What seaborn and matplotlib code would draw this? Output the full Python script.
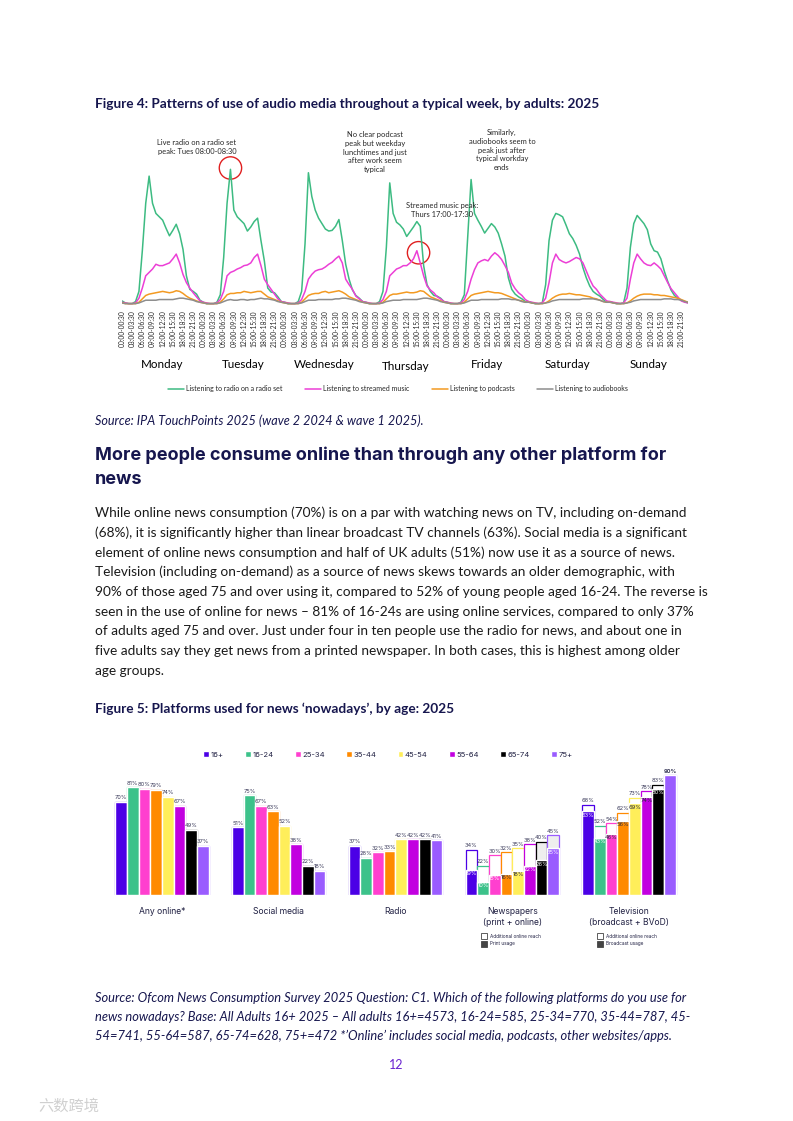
import matplotlib
matplotlib.use("Agg")
import matplotlib.pyplot as plt
from matplotlib.patches import Ellipse, Rectangle
import seaborn as sns
import pandas as pd

# ---- Figure 4 data (hourly, arbitrary reach units) ----
days = ["Monday", "Tuesday", "Wednesday", "Thursday", "Friday", "Saturday", "Sunday"]
slot_labels = ["00:00-00:30", "03:00-03:30", "06:00-06:30", "09:00-09:30",
               "12:00-12:30", "15:00-15:30", "18:00-18:30", "21:00-21:30"]

radio = [
    0.6, 0.3, 0.2, 0.2, 0.5, 2.0, 8.0, 15.0, 19.0, 15.0, 13.5, 13.0, 12.5, 11.3, 10.2, 11.0, 11.9, 10.5, 8.2, 4.3, 2.3, 2.0, 1.6, 0.7,
    0.4, 0.2, 0.2, 0.2, 0.4, 1.5, 7.0, 15.0, 20.0, 14.0, 13.0, 12.5, 12.0, 10.9, 11.5, 12.3, 12.8, 9.5, 6.5, 2.5, 1.9, 1.8, 1.2, 0.5,
    0.4, 0.2, 0.2, 0.2, 0.5, 2.0, 9.0, 19.5, 16.0, 14.0, 12.8, 12.0, 11.2, 10.9, 11.0, 11.6, 12.6, 9.5, 6.0, 3.8, 2.2, 1.4, 1.0, 0.5,
    0.4, 0.2, 0.2, 0.2, 0.5, 2.0, 8.5, 18.0, 13.5, 12.2, 11.8, 11.2, 10.1, 10.8, 11.5, 12.3, 11.6, 5.8, 3.0, 2.0, 1.4, 1.3, 1.0, 0.5,
    0.4, 0.2, 0.2, 0.2, 0.4, 1.5, 10.0, 18.5, 13.5, 12.5, 11.6, 10.6, 11.3, 12.0, 11.5, 10.6, 9.0, 7.2, 4.0, 2.3, 1.6, 1.2, 0.9, 0.5,
    0.5, 0.3, 0.2, 0.2, 0.3, 3.0, 9.5, 12.5, 13.5, 13.3, 13.0, 11.8, 10.5, 9.8, 8.8, 7.5, 5.5, 4.0, 2.8, 2.0, 1.6, 1.3, 0.8, 0.4,
    0.5, 0.3, 0.2, 0.2, 0.3, 2.5, 8.5, 12.0, 13.2, 12.6, 12.0, 11.1, 9.0, 8.0, 7.8, 6.8, 5.0, 3.5, 2.2, 1.4, 1.0, 0.7, 0.5, 0.3,
]
streamed = [
    0.4, 0.3, 0.2, 0.2, 0.3, 1.0, 2.5, 4.3, 4.8, 5.3, 6.0, 5.8, 5.8, 6.0, 6.2, 6.8, 7.5, 6.2, 4.5, 3.3, 2.5, 1.8, 1.2, 0.6,
    0.4, 0.3, 0.2, 0.2, 0.3, 0.8, 2.0, 4.3, 4.8, 5.0, 5.3, 5.5, 5.8, 5.9, 6.2, 7.0, 7.5, 5.8, 3.8, 3.0, 2.3, 1.6, 0.9, 0.5,
    0.4, 0.3, 0.2, 0.2, 0.3, 0.8, 2.0, 3.8, 4.5, 5.0, 5.2, 5.3, 5.6, 6.0, 6.3, 6.8, 7.2, 6.2, 3.8, 3.0, 2.3, 1.3, 0.9, 0.5,
    0.4, 0.3, 0.2, 0.2, 0.3, 0.8, 2.0, 4.3, 4.8, 5.3, 5.5, 5.8, 5.8, 6.2, 6.8, 8.0, 6.2, 4.3, 2.8, 2.2, 1.8, 1.2, 0.9, 0.5,
    0.4, 0.3, 0.2, 0.2, 0.3, 0.8, 2.0, 3.8, 5.2, 6.2, 6.5, 6.7, 6.5, 7.2, 7.7, 7.3, 6.7, 5.8, 4.8, 3.2, 2.4, 1.8, 1.4, 0.8,
    0.5, 0.4, 0.3, 0.2, 0.3, 1.0, 3.3, 6.2, 7.5, 6.7, 6.4, 6.2, 6.4, 6.7, 7.0, 6.8, 6.2, 5.0, 3.8, 2.8, 2.3, 1.6, 1.1, 0.6,
    0.5, 0.4, 0.3, 0.2, 0.3, 1.0, 3.8, 6.2, 7.5, 6.8, 6.2, 5.9, 5.8, 6.2, 5.8, 5.3, 4.3, 3.3, 2.4, 1.8, 1.2, 0.6, 0.4, 0.3,
]
podcasts = [
    0.3, 0.2, 0.2, 0.2, 0.2, 0.4, 0.9, 1.4, 1.6, 1.7, 1.8, 1.9, 2.0, 1.9, 1.8, 1.9, 2.1, 2.0, 1.7, 1.3, 1.0, 0.8, 0.6, 0.4,
    0.3, 0.2, 0.2, 0.2, 0.2, 0.4, 0.9, 1.5, 1.7, 1.7, 1.8, 1.8, 2.0, 1.9, 1.8, 1.9, 2.0, 2.0, 1.6, 1.2, 1.0, 0.8, 0.6, 0.4,
    0.3, 0.2, 0.2, 0.2, 0.2, 0.4, 0.9, 1.4, 1.6, 1.7, 1.7, 1.9, 2.0, 1.8, 1.9, 2.0, 2.1, 1.9, 1.6, 1.2, 1.0, 0.8, 0.6, 0.4,
    0.3, 0.2, 0.2, 0.2, 0.2, 0.4, 0.9, 1.4, 1.6, 1.6, 1.7, 1.8, 1.9, 1.8, 1.8, 1.9, 2.1, 2.0, 1.6, 1.2, 1.0, 0.8, 0.6, 0.4,
    0.3, 0.2, 0.2, 0.2, 0.2, 0.4, 0.9, 1.4, 1.6, 1.7, 1.8, 1.9, 2.0, 1.9, 1.8, 1.8, 1.7, 1.5, 1.3, 1.1, 0.9, 0.7, 0.6, 0.4,
    0.4, 0.3, 0.2, 0.2, 0.2, 0.3, 0.6, 1.0, 1.3, 1.5, 1.6, 1.6, 1.7, 1.6, 1.5, 1.5, 1.4, 1.3, 1.2, 1.0, 0.9, 0.7, 0.5, 0.4,
    0.4, 0.3, 0.2, 0.2, 0.2, 0.3, 0.6, 1.0, 1.3, 1.5, 1.6, 1.6, 1.6, 1.5, 1.5, 1.4, 1.4, 1.3, 1.2, 1.1, 1.0, 0.8, 0.6, 0.4,
]
audiobooks = [
    0.3, 0.2, 0.2, 0.2, 0.2, 0.3, 0.5, 0.7, 0.7, 0.7, 0.7, 0.8, 0.8, 0.8, 0.8, 0.8, 0.9, 1.0, 1.0, 0.9, 0.8, 0.7, 0.5, 0.4,
    0.3, 0.2, 0.2, 0.2, 0.2, 0.3, 0.5, 0.7, 0.8, 0.7, 0.7, 0.8, 0.8, 0.7, 0.8, 0.8, 0.9, 1.0, 0.9, 0.9, 0.8, 0.7, 0.5, 0.4,
    0.3, 0.2, 0.2, 0.2, 0.2, 0.3, 0.5, 0.7, 0.7, 0.7, 0.8, 0.8, 0.8, 0.8, 0.8, 0.9, 0.9, 1.0, 1.0, 0.9, 0.8, 0.7, 0.5, 0.4,
    0.3, 0.2, 0.2, 0.2, 0.2, 0.3, 0.5, 0.6, 0.7, 0.7, 0.7, 0.8, 0.8, 0.8, 0.8, 0.8, 0.9, 1.0, 1.0, 0.9, 0.8, 0.7, 0.5, 0.4,
    0.3, 0.2, 0.2, 0.2, 0.2, 0.3, 0.5, 0.7, 0.7, 0.7, 0.8, 0.8, 0.8, 0.8, 0.8, 0.8, 0.9, 0.9, 0.9, 0.8, 0.8, 0.7, 0.5, 0.4,
    0.4, 0.3, 0.2, 0.2, 0.2, 0.3, 0.4, 0.6, 0.7, 0.8, 0.8, 0.8, 0.8, 0.8, 0.8, 0.8, 0.9, 0.9, 0.9, 0.9, 0.8, 0.7, 0.5, 0.4,
    0.4, 0.3, 0.2, 0.2, 0.2, 0.3, 0.4, 0.6, 0.7, 0.8, 0.8, 0.8, 0.8, 0.8, 0.8, 0.8, 0.9, 0.9, 0.9, 0.8, 0.8, 0.7, 0.5, 0.4,
]
series_names = ["Listening to radio on a radio set", "Listening to streamed music",
                "Listening to podcasts", "Listening to audiobooks"]
line_colors = ["#3dbb82", "#ec3fd6", "#f39a22", "#8d8d8d"]

# ---- Figure 5 data ----
platforms = ["Any online*", "Social media", "Radio",
             "Newspapers\n(print + online)", "Television\n(broadcast + BVoD)"]
ages = ["16+", "16-24", "25-34", "35-44", "45-54", "55-64", "65-74", "75+"]
any_online = [70, 81, 80, 79, 74, 67, 49, 37]
social_media = [51, 75, 67, 63, 52, 38, 22, 18]
radio_news = [37, 28, 32, 33, 42, 42, 42, 41]
newspapers_total = [34, 22, 30, 32, 35, 38, 40, 45]
newspapers_print = [19, 10, 15, 16, 18, 22, 26, 35]
tv_total = [68, 52, 54, 62, 73, 78, 83, 90]
tv_broadcast = [63, 43, 46, 56, 69, 74, 80, 90]
age_colors = ["#4b00e6", "#3cc28a", "#ff3fcf", "#ff8a00", "#ffee5a", "#c200e0", "#000000", "#9a5cff"]

W, H = 793, 1121
NAVY = "#16164e"
TEXT = "#1a1a1a"


def fx(x):
    return x / W


def fy(y):
    return 1 - y / H


sns.set_theme(style="white")
plt.rcParams["font.family"] = ["Lato", "DejaVu Sans"]

fig = plt.figure(figsize=(W / 100, H / 100), dpi=100)

# ---------------- Figure 4 ----------------
fig.text(fx(95), fy(104), "Figure 4: Patterns of use of audio media throughout a typical week, by adults: 2025",
         fontsize=9.8, fontweight="bold", color=NAVY, va="center")

rows = []
for name, vals in zip(series_names, [radio, streamed, podcasts, audiobooks]):
    for i, v in enumerate(vals):
        rows.append({"slot": i, "value": v, "series": name})
df_lines = pd.DataFrame(rows)

ax1 = fig.add_axes([fx(122), fy(307), (688 - 122) / W, 177 / H])
sns.lineplot(data=df_lines, x="slot", y="value", hue="series", hue_order=series_names,
             palette=dict(zip(series_names, line_colors)), linewidth=1.1, ax=ax1)
ax1.set_xlim(0, len(radio) - 1)
ax1.set_ylim(-0.3, 25.8)
tick_pos = list(range(0, len(radio), 3))
ax1.set_xticks(tick_pos)
ax1.set_xticklabels(slot_labels * len(days), rotation=90, fontsize=4.8)
ax1.tick_params(axis="x", length=0, pad=2.5)
ax1.set_yticks([])
ax1.set_xlabel("")
ax1.set_ylabel("")
sns.despine(ax=ax1, left=True, bottom=True)
sns.move_legend(ax1, "center", bbox_to_anchor=(fx(398), fy(389)), bbox_transform=fig.transFigure,
                ncol=4, frameon=False, title=None, fontsize=5, handlelength=2.3,
                columnspacing=3.2, handletextpad=0.3)

for d, day in enumerate(days):
    fig.text(fx(122 + (d + 0.5) * 81), fy(366 if day == "Thursday" else 364), day,
             fontsize=8.4, color="black", ha="center", va="center")

# annotations
ax1.add_patch(Ellipse((32, 20.2), 6.6, 3.3, fill=False, edgecolor="#e02020", linewidth=1.0, clip_on=False))
ax1.add_patch(Ellipse((87.5, 7.7), 6.6, 3.3, fill=False, edgecolor="#e02020", linewidth=1.0, clip_on=False))
fig.text(fx(197), fy(147), "Live radio on a radio set\npeak: Tues 08:00-08:30", fontsize=5.4,
         ha="center", va="center", linespacing=1.3)
fig.text(fx(375), fy(152), "No clear podcast\npeak but weekday\nlunchtimes and just\nafter work seem\ntypical",
         fontsize=5.4, ha="center", va="center", linespacing=1.3)
fig.text(fx(502), fy(150), "Similarly,\naudiobooks seem to\npeak just after\ntypical workday\nends",
         fontsize=5.4, ha="center", va="center", linespacing=1.3)
fig.text(fx(442), fy(210), "Streamed music peak:\nThurs 17:00-17:30", fontsize=5.4,
         ha="center", va="center", linespacing=1.3)

fig.text(fx(95), fy(421), "Source: IPA TouchPoints 2025 (wave 2 2024 & wave 1 2025).",
         fontsize=9.1, style="italic", color=NAVY, va="center")

# ---------------- Heading + body ----------------
fig.text(fx(95), fy(455), "More people consume online than through any other platform for",
         fontsize=13, fontweight="bold", color=NAVY, va="center", family=["Inter", "DejaVu Sans"])
fig.text(fx(95), fy(479), "news", fontsize=13, fontweight="bold", color=NAVY, va="center",
         family=["Inter", "DejaVu Sans"])

body = [
    "While online news consumption (70%) is on a par with watching news on TV, including on-demand",
    "(68%), it is significantly higher than linear broadcast TV channels (63%). Social media is a significant",
    "element of online news consumption and half of UK adults (51%) now use it as a source of news.",
    "Television (including on-demand) as a source of news skews towards an older demographic, with",
    "90% of those aged 75 and over using it, compared to 52% of young people aged 16-24. The reverse is",
    "seen in the use of online for news \u2013 81% of 16-24s are using online services, compared to only 37%",
    "of adults aged 75 and over. Just under four in ten people use the radio for news, and about one in",
    "five adults say they get news from a printed newspaper. In both cases, this is highest among older",
    "age groups.",
]
for i, line in enumerate(body):
    fig.text(fx(95), fy(513 + i * 19.7), line, fontsize=9.8, color=TEXT, va="center")

# ---------------- Figure 5 ----------------
fig.text(fx(95), fy(709), "Figure 5: Platforms used for news \u2018nowadays\u2019, by age: 2025",
         fontsize=9.8, fontweight="bold", color=NAVY, va="center")

totals = [any_online, social_media, radio_news, newspapers_total, tv_total]
inners = [any_online, social_media, radio_news, newspapers_print, tv_broadcast]
bar_rows = []
for p, tot, inn in zip(platforms, totals, inners):
    for a, t, v in zip(ages, tot, inn):
        bar_rows.append({"platform": p, "age": a, "total": t, "inner": v})
df_bars = pd.DataFrame(bar_rows)
pal = dict(zip(ages, age_colors))

ax2 = fig.add_axes([103.6 / W, fy(895), 583.8 / W, 133 / H])
sns.barplot(data=df_bars, x="platform", y="total", hue="age", order=platforms, hue_order=ages,
            palette=pal, saturation=1, legend=False, ax=ax2)
for a_i, cont in enumerate(ax2.containers):
    for p_i, bar in enumerate(cont):
        bar.set_edgecolor(age_colors[a_i])
        bar.set_linewidth(0.9)
        if p_i >= 3:
            bar.set_facecolor("#eeeeee" if a_i >= 6 and p_i == 3 else "white")
sns.barplot(data=df_bars, x="platform", y="inner", hue="age", order=platforms, hue_order=ages,
            palette=pal, saturation=1, ax=ax2)

ax2.set_ylim(0, 100)
ax2.set_xlim(-0.5, 4.5)
ax2.set_yticks([])
ax2.set_xlabel("")
ax2.set_ylabel("")
ax2.tick_params(axis="x", length=0, pad=9, labelsize=6.2, labelcolor="#222244")
for lab in ax2.get_xticklabels():
    lab.set_family(["Inter", "DejaVu Sans"])
sns.despine(ax=ax2, left=True, bottom=True)

lab_font = ["Inter", "DejaVu Sans"]
top_conts = ax2.containers[8:16]
for a_i, cont in enumerate(top_conts):
    for p_i, bar in enumerate(cont):
        xc = bar.get_x() + bar.get_width() / 2
        tot = totals[p_i][a_i]
        fw = "bold" if tot == 90 else "normal"
        ax2.text(xc, tot + 1.2, f"{tot}%", ha="center", va="bottom", fontsize=4.1,
                 color="#3a3a5a", family=lab_font, fontweight=fw)
        inn = inners[p_i][a_i]
        if p_i >= 3 and inn < tot:
            c = "#2a2a40" if a_i in (3, 4) or (p_i == 4 and a_i in (2, 5)) else "white"
            ax2.text(xc, inn - 1.0, f"{inn}%", ha="center", va="top", fontsize=4.1,
                     color=c, family=lab_font)

sns.move_legend(ax2, "center", bbox_to_anchor=(0.487, 1.055), ncol=8, frameon=False, title=None,
                fontsize=5.5, handlelength=0.75, handleheight=0.75, handletextpad=0.2,
                columnspacing=2.8)
for t in ax2.get_legend().get_texts():
    t.set_family(lab_font)
    t.set_color("#222244")

# small key boxes under the stacked groups
for x0, lines in [(481, ["Additional online reach", "Print usage"]),
                  (597, ["Additional online reach", "Broadcast usage"])]:
    for j, (txt, fc) in enumerate(zip(lines, ["white", "#444444"])):
        yy = 936 + j * 8
        fig.add_artist(Rectangle((fx(x0), fy(yy + 3)), 6 / W, 6 / H, transform=fig.transFigure,
                                 facecolor=fc, edgecolor="#444444", linewidth=0.6))
        fig.text(fx(x0 + 9), fy(yy), txt, fontsize=3.4, color="#222244", va="center", family=lab_font)

source2 = [
    "Source: Ofcom News Consumption Survey 2025 Question: C1. Which of the following platforms do you use for",
    "news nowadays? Base: All Adults 16+ 2025 \u2013 All adults 16+=4573, 16-24=585, 25-34=770, 35-44=787, 45-",
    "54=741, 55-64=587, 65-74=628, 75+=472 *\u2019Online\u2019 includes social media, podcasts, other websites/apps.",
]
for i, line in enumerate(source2):
    fig.text(fx(95), fy(998 + i * 19), line, fontsize=9.25, style="italic", color=NAVY, va="center")

fig.text(fx(396), fy(1065), "12", fontsize=9, color="#6a22d0", ha="center", va="center")
fig.text(fx(38), fy(1106), "\u516d\u6570\u8de8\u5883", fontsize=11, color="#d0d0d0", va="center",
         family=["Noto Sans CJK SC", "DejaVu Sans"])

fig.savefig("out.png", dpi=100)
